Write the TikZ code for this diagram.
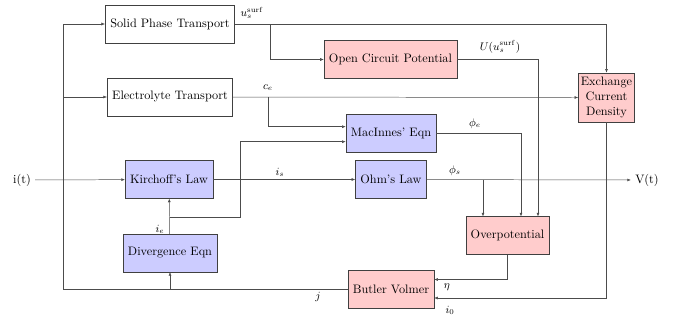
\documentclass[tikz,border=0pt]{standalone}
\usepackage{amsmath}
\usetikzlibrary{calc,arrows.meta}

\begin{document}
\begin{tikzpicture}[
  x=0.0287cm, y=-0.0287cm,
  block/.style={rectangle, draw=black!75, minimum height=1.08cm, inner xsep=4pt, align=center},
  redblock/.style={block, fill=red!20},
  blueblock/.style={block, fill=blue!20},
  wire/.style={draw=black!70, thin},
  sig/.style={wire, -{Latex[length=3pt,width=2.4pt]}},
  lbl/.style={inner sep=1pt, font=\small}
]
\useasboundingbox (0,0) rectangle (675,320);

\node[block] (solid) at (170,24) {Solid Phase Transport};
\node[block] (electrolyte) at (170,97) {Electrolyte Transport};
\node[blueblock] (kirch) at (169,179.5) {Kirchoff's Law};
\node[blueblock] (diverg) at (170,253) {Divergence Eqn};
\node[redblock] (ocp) at (390.5,59.5) {Open Circuit Potential};
\node[redblock, minimum height=1.41cm, inner sep=2pt] (exch) at (606.5,97.5) {Exchange\\Current\\Density};
\node[blueblock] (macinnes) at (391,133) {MacInnes' Eqn};
\node[blueblock] (ohm) at (391,179.5) {Ohm's Law};
\node[redblock] (overpot) at (507.5,235.5) {Overpotential};
\node[redblock] (butler) at (391,289.5) {Butler Volmer};

\node (it) at (22,180) {i(t)};
\node (vt) at (647,180) {V(t)};

\node[lbl] (lus) at (252,13) {$u_s^{\mathrm{surf}}$};
\node[lbl] (lU) at (500,47) {$U(u_s^{\mathrm{surf}})$};
\node[lbl] (lce) at (268,88) {$c_e$};
\node[lbl] (lphie) at (475,124) {$\phi_e$};
\node[lbl] (lis) at (280,172) {$i_s$};
\node[lbl] (lphis) at (455,171) {$\phi_s$};
\node[lbl] (lie) at (160,229) {$i_e$};
\node[lbl] (lj) at (318,297) {$j$};
\node[lbl] (leta) at (447,287) {$\eta$};
\node[lbl] (li0) at (450,310) {$i_0$};

\coordinate (fbl) at (63,289.5);
\coordinate (us) at (270,24);
\coordinate (ce) at (268,97);
\coordinate (ie) at (170,217);
\coordinate (phis) at (483,179.5);

\draw[sig] (it) -- (kirch);
\draw[sig] (kirch) -- (ohm);
\draw[sig] (ohm) -- (vt);
\draw[sig] (diverg) -- (kirch);
\draw[sig] (ie) -- ++(70,0) |- ($(macinnes.west)+(0,8.7)$);

\draw[wire] (butler.west) -- (fbl);
\draw[sig] (fbl) |- (solid.west);
\draw[sig] (fbl |- electrolyte.west) -- (electrolyte.west);
\draw[sig] (diverg.south |- fbl) -- (diverg.south);

\draw[sig] (solid.east) -| (exch.north);
\draw[sig] (us) |- (ocp.west);
\draw[sig] (electrolyte.east) -- (exch.west);
\draw[sig] (ce) |- ($(macinnes.west)+(0,-6.3)$);

\draw[sig] (ocp.east) -| ($(overpot.north)+(30.5,0)$);
\draw[sig] (macinnes.east) -| ($(overpot.north)+(13.5,0)$);
\draw[sig] (phis) -- (phis |- overpot.north);

\draw[sig] (overpot.south) |- ($(butler.east)+(0,-10)$);
\draw[sig] (exch.south) |- ($(butler.east)+(0,8.5)$);
\end{tikzpicture}
\end{document}
